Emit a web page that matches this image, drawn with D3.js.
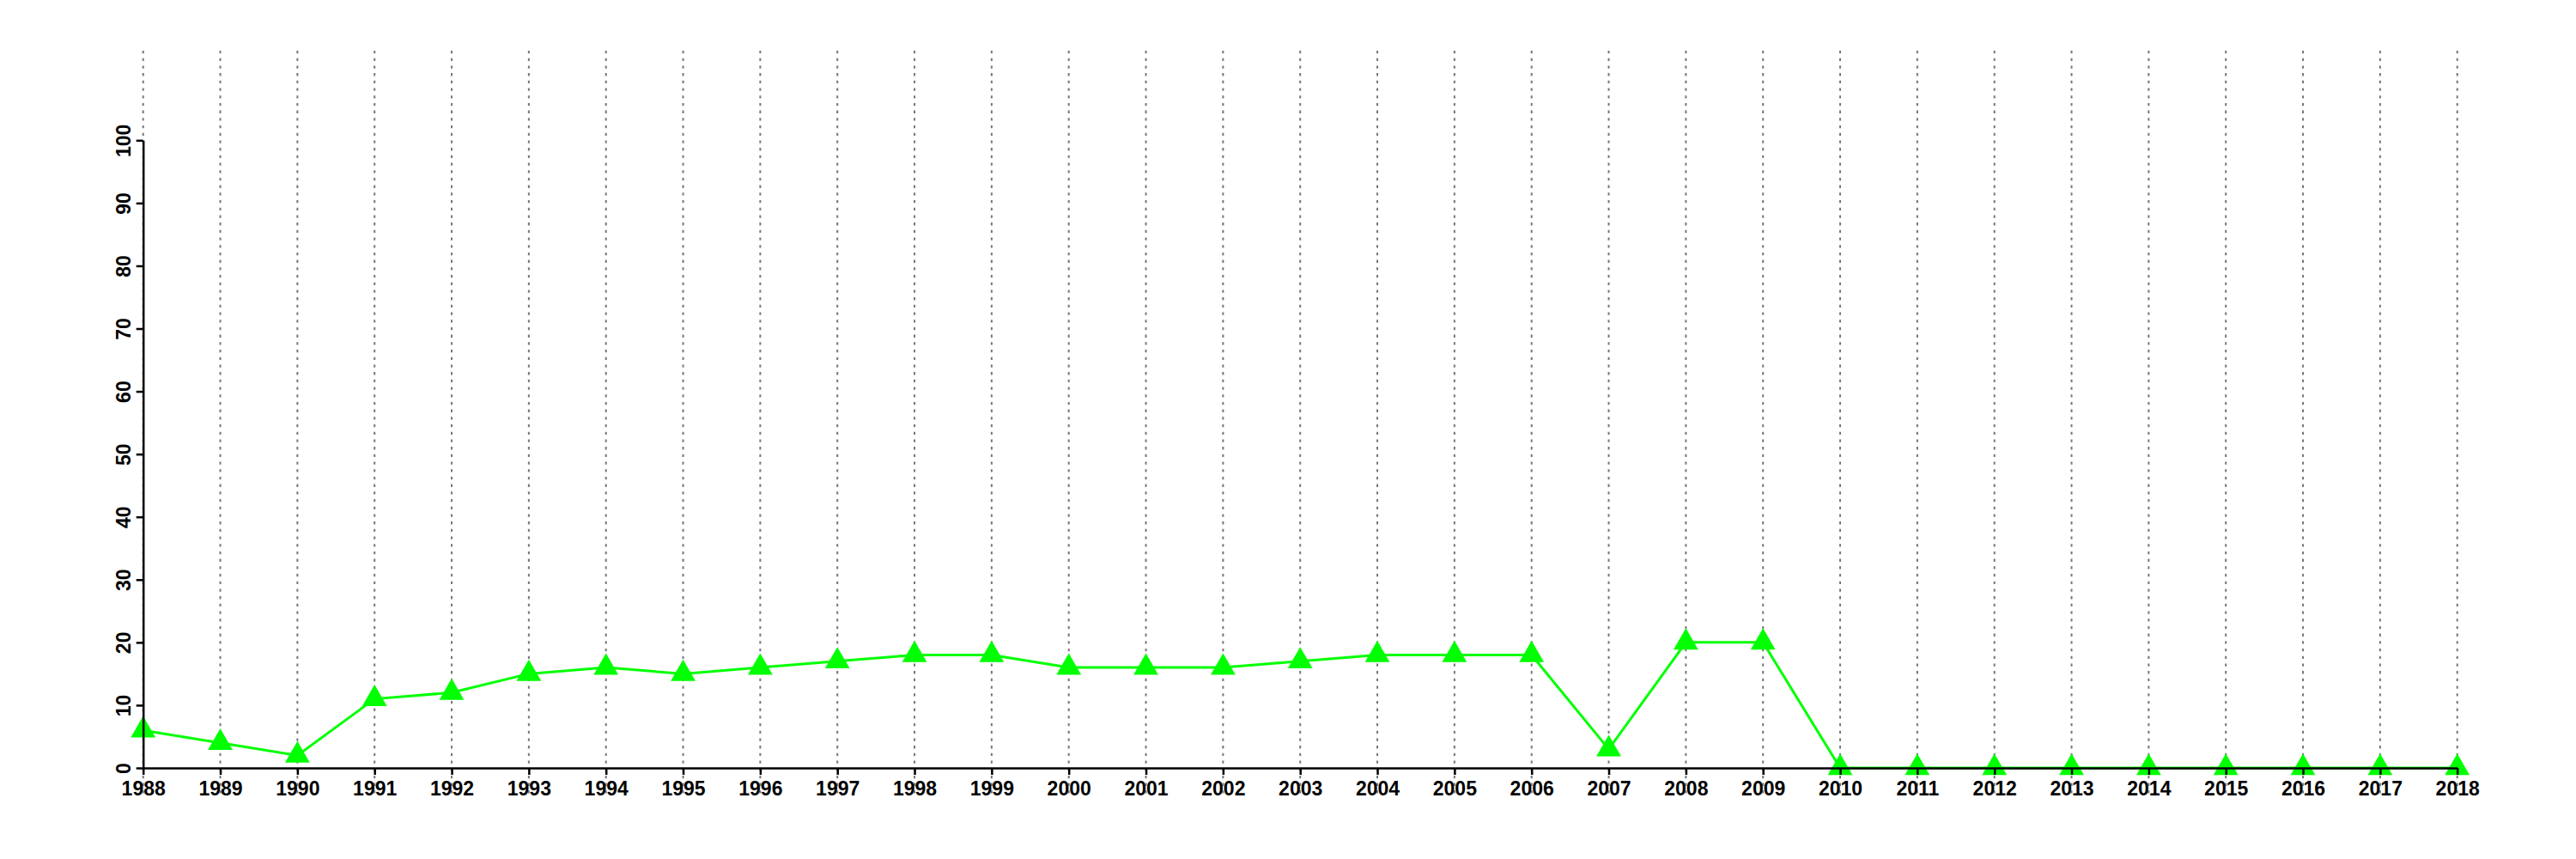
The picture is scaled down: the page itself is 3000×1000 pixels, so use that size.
<!DOCTYPE html>
<html>
<head>
<meta charset="utf-8">
<script src="https://cdn.jsdelivr.net/npm/d3@7"></script>
<style>
html,body{margin:0;padding:0;background:#fff;}
svg{display:block;}
text{font-family:"Liberation Sans",Arial,Helvetica,sans-serif;font-weight:bold;}
</style>
</head>
<body>
<svg id="chart" width="3000" height="1000"></svg>
<script>
const years = [1988,1989,1990,1991,1992,1993,1994,1995,1996,1997,1998,1999,2000,2001,2002,2003,2004,2005,2006,2007,2008,2009,2010,2011,2012,2013,2014,2015,2016,2017,2018];
const values = [6,4,2,11,12,15,16,15,16,17,18,18,16,16,16,17,18,18,18,3,20,20,0,0,0,0,0,0,0,0,0];
const yTicks = [0,10,20,30,40,50,60,70,80,90,100];

const svg = d3.select("#chart");
const x = d3.scaleLinear().domain([1988,2018]).range([166.7,2861.7]);
const y = d3.scaleLinear().domain([0,100]).range([894,163.3]);

// gridlines
svg.append("g").selectAll("line").data(years).join("line")
  .attr("x1", d=>x(d)).attr("x2", d=>x(d))
  .attr("y1", 59).attr("y2", 927)
  .attr("stroke", "#777").attr("stroke-width", 2)
  .attr("stroke-dasharray", "3.3,5.4");

// line
const line = d3.line().x((d,i)=>x(years[i])).y(d=>y(d));
svg.append("path").datum(values)
  .attr("d", line).attr("fill","none")
  .attr("stroke","#00ff00").attr("stroke-width",3);

// points
svg.append("g").selectAll("path").data(values).join("path")
  .attr("transform",(d,i)=>`translate(${x(years[i])},${y(d)})`)
  .attr("d", d3.symbol().type(d3.symbolTriangle).size(360))
  .attr("fill","#00ff00");

// x axis
const xAxis = svg.append("g").attr("transform",`translate(0,${y(0)})`)
  .call(d3.axisBottom(x).tickValues(years).tickFormat(d3.format("d")).tickSizeInner(8).tickSizeOuter(0).tickPadding(8));
xAxis.select(".domain").attr("stroke","#000").attr("stroke-width",2.5);
xAxis.selectAll(".tick line").attr("stroke","#000").attr("stroke-width",2.5);
xAxis.selectAll("text").attr("font-size",23).attr("fill","#000");

// y axis
const yAxis = svg.append("g").attr("transform",`translate(${x(1988)},0)`)
  .call(d3.axisLeft(y).tickValues(yTicks).tickSizeInner(8).tickSizeOuter(0).tickPadding(0));
yAxis.select(".domain").attr("stroke","#000").attr("stroke-width",2.5);
yAxis.selectAll(".tick line").attr("stroke","#000").attr("stroke-width",2.5);
yAxis.selectAll("text")
  .attr("font-size",23).attr("fill","#000")
  .attr("x",null).attr("dy",null)
  .attr("text-anchor","middle")
  .attr("transform","translate(-15,0) rotate(-90)");
</script>
</body>
</html>
